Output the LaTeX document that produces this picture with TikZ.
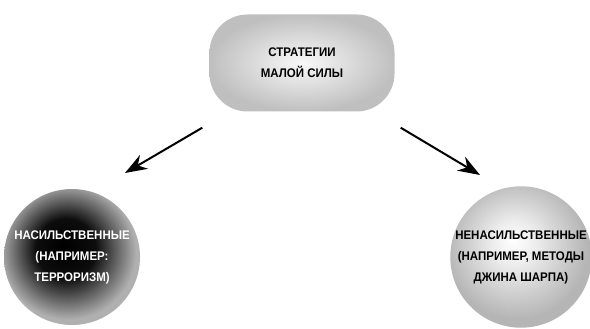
\documentclass[tikz,border=0pt]{standalone}
\usepackage{fontspec}
\setmainfont{Liberation Sans}[FakeStretch=0.92]
\usetikzlibrary{positioning, arrows.meta}
\pgfdeclareradialshading{darkball}{\pgfpoint{-3bp}{4bp}}{color(0bp)=(black); color(11bp)=(black!95); color(25bp)=(gray!62); color(50bp)=(gray!62)}
\pgfdeclareradialshading{lightball}{\pgfpoint{-3bp}{6bp}}{color(0bp)=(white); color(8bp)=(gray!15); color(25bp)=(gray!58); color(50bp)=(gray!58)}
\tikzset{>={Stealth[length=22pt,width=16pt]},
every node/.style={font=\bfseries\fontsize{12.5}{21}\selectfont, align=center},
strat/.style={rounded corners=38pt, minimum width=185pt, minimum height=97pt,
  inner color=gray!5, outer color=gray!50},
ball/.style={circle, minimum size=136pt, inner sep=0pt},
}

\begin{document}
\begin{tikzpicture}[x=1pt,y=1pt]
\useasboundingbox (0,0) rectangle (590,329);
    \node[strat] (sms) at (302,266) {СТРАТЕГИИ\\МАЛОЙ СИЛЫ};
    \node[ball, shading=darkball, text=white] (nas) at (72,72) {НАСИЛЬСТВЕННЫЕ\\(НАПРИМЕР:\\ТЕРРОРИЗМ)};
    \node[ball, shading=lightball, minimum size=134pt] (nenas) at (521,72) {НЕНАСИЛЬСТВЕННЫЕ\\(НАПРИМЕР, МЕТОДЫ\\ДЖИНА ШАРПА)};
    \coordinate[below left=16pt and 7pt of sms.south west] (l1);
    \coordinate[above right=84pt and 53pt of nas.center] (l2);
    \coordinate[below right=16pt and 6pt of sms.south east] (r1);
    \coordinate[above left=82pt and 41pt of nenas.center] (r2);
    \draw[->, line width=2pt] (l1) -- (l2);
    \draw[->, line width=2pt] (r1) -- (r2);
\end{tikzpicture}
\end{document}
